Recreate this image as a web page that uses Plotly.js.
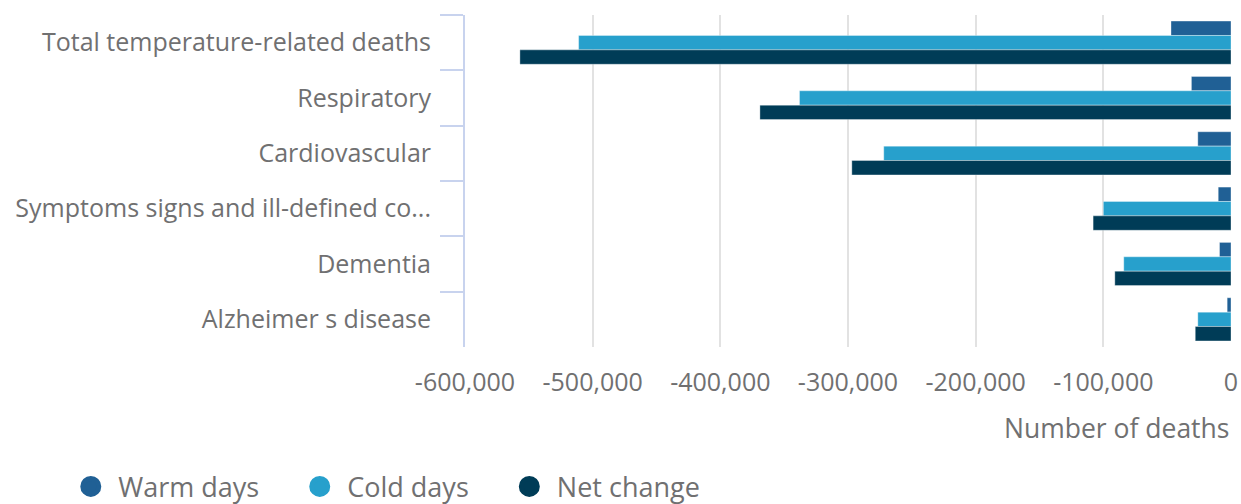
<!DOCTYPE html>
<html><head><meta charset="utf-8">
<script src="https://cdn.plot.ly/plotly-3.0.1.min.js"></script>
<style>html,body{margin:0;padding:0;background:#fff}#chart{width:1241px;height:504px}</style>
</head><body><div id="chart"></div>
<script>
const categories = ["Total temperature-related deaths","Respiratory","Cardiovascular","Symptoms signs and ill-defined co...","Dementia","Alzheimer s disease"];
const warmDays = [-47000,-31000,-26000,-10000,-9000,-3000];
const coldDays = [-511000,-338000,-272000,-100000,-84000,-26000];
const netChange = [-557000,-369000,-297000,-108000,-91000,-28000];
const seriesNames = ["Warm days","Cold days","Net change"];
const colors = ["#206095","#27a0cc","#003c57"];
const xTicks = [-600000,-500000,-400000,-300000,-200000,-100000,0];
const xTickText = ["-600,000","-500,000","-400,000","-300,000","-200,000","-100,000","0"];

const font = "'Open Sans', sans-serif";
const txt = "#707071";
const pad = "&nbsp;".repeat(4);
const vals = [warmDays, coldDays, netChange];
const traces = [];
vals.forEach((v,i)=>{
  traces.push({type:'bar', orientation:'h', y:categories, x:v, name:seriesNames[i],
    marker:{color:colors[i], line:{color:'rgba(255,255,255,0.35)', width:1}}, showlegend:false, hoverinfo:'x+name'});
});
vals.forEach((v,i)=>{
  traces.push({type:'scatter', mode:'markers', x:[null], y:[null], name:seriesNames[i] + (i<2?pad:''),
    marker:{color:colors[i], size:16, symbol:'circle', line:{color:colors[i], width:5}}, showlegend:true});
});
const layout = {
  width:1241, height:504,
  margin:{l:465, r:10, t:15, b:157},
  paper_bgcolor:'#fff', plot_bgcolor:'#fff',
  font:{family:font, color:txt, size:25},
  barmode:'group', bargap:0.22, bargroupgap:0,
  xaxis:{range:[-600000,0], tickvals:xTicks, ticktext:xTickText, showgrid:true, gridcolor:'#e2e2e2', gridwidth:2,
    zeroline:false, showline:false, ticks:'outside', ticklen:13, tickcolor:'rgba(0,0,0,0)', tickfont:{size:25,color:txt}, fixedrange:true},
  yaxis:{autorange:'reversed', type:'category', showgrid:false, zeroline:false, showline:true, linecolor:'#c8d3ee', linewidth:2,
    ticks:'outside', tickson:'boundaries', ticklen:23, tickcolor:'#c8d3ee', tickwidth:2, tickfont:{size:25,color:txt}, ticklabelstandoff:27},
  legend:{orientation:'h', xref:'container', yref:'container', x:0.051, y:0.034, xanchor:'left', yanchor:'middle', font:{size:27,color:txt}, itemwidth:45, traceorder:'normal'},
  annotations:[{text:'Number of deaths', xref:'paper', yref:'paper', x:1, y:-0.245, xanchor:'right', yanchor:'middle', showarrow:false, font:{size:26.5,color:txt}}]
};
Plotly.newPlot('chart', traces, layout, {displayModeBar:false, staticPlot:true});
</script></body></html>
